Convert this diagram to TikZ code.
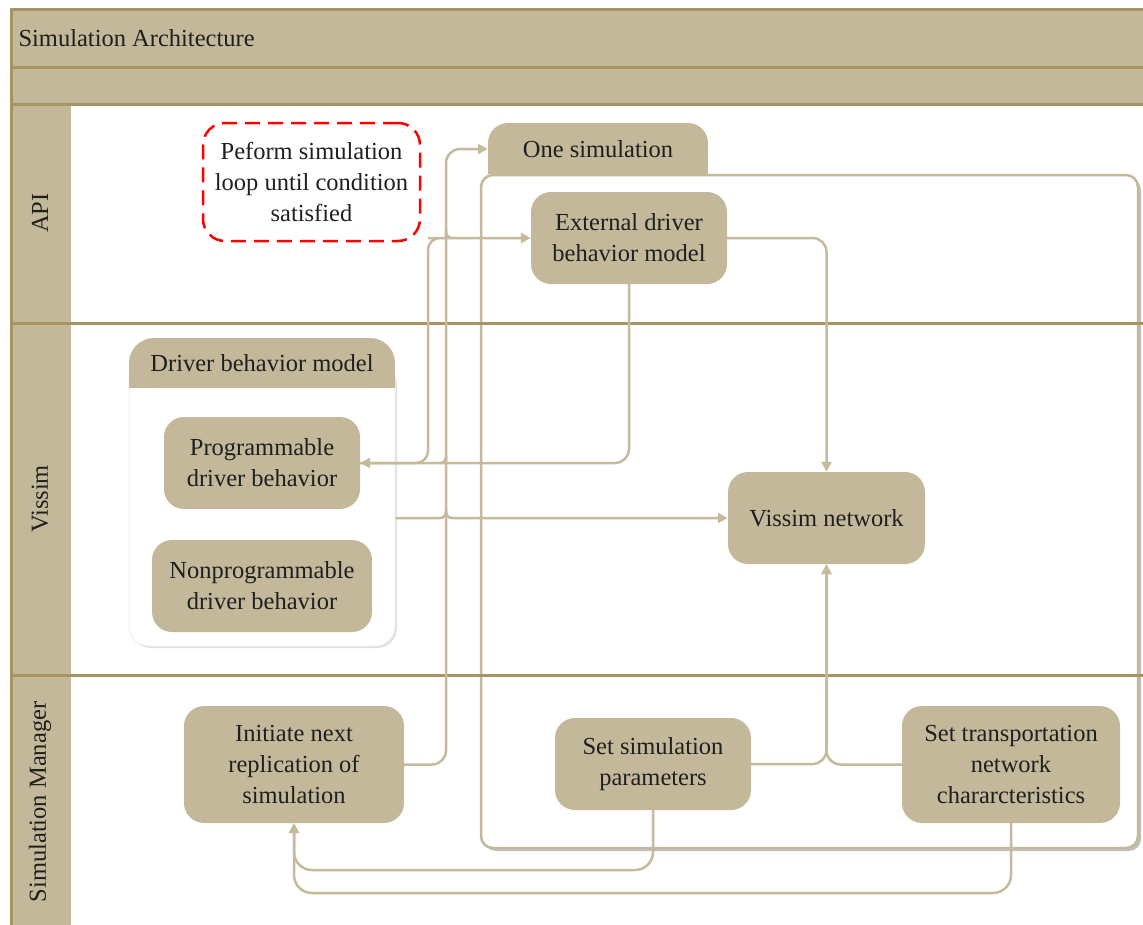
\documentclass[tikz,border=0pt]{standalone}
\usepackage{fontspec}
\setmainfont{Liberation Serif}
\usetikzlibrary{arrows.meta,shadows,calc}
\definecolor{tan}{HTML}{C4B89A}
\definecolor{tandark}{HTML}{A69563}
\definecolor{conncol}{HTML}{C6BA9C}
\begin{document}
\begin{tikzpicture}[x=1pt,y=-1pt,
  txt/.style={font=\fontsize{24.5}{31}\selectfont, text=black!88},
  box/.style={txt, fill=tan, rounded corners=20pt, align=center, inner sep=0pt},
  conn/.style={draw=conncol, line width=2.5pt},
  arr/.style={-{Triangle[length=10pt,width=10pt]}},
  lane/.style={draw=tandark, line width=3pt},
  shade/.style={drop shadow={shadow xshift=3pt, shadow yshift=-3pt, opacity=0.25, fill=black}}
]
\useasboundingbox (0,0) rectangle (1143,924);
\clip (0,0) rectangle (1143,924);
% header bars and lane label column
\fill[tan] (10,9) rectangle (1150,104);
\fill[tan] (10,104) rectangle (71,930);
\node[txt, anchor=west] (title) at (15,38) {Simulation Architecture};
\node[txt, rotate=90] (lapi) at (40,213) {API};
\node[txt, rotate=90] (lvis) at (40,499) {Vissim};
\node[txt, rotate=90] (lsm) at (40,802) {Simulation Manager};

% One simulation container
\node[draw=tan, line width=2.5pt, fill=white, rounded corners=12pt, inner sep=0pt,
      minimum width=657pt, minimum height=673pt, shade] (oscont) at (809.5,511.5) {};
\fill[tan] (488,150) rectangle (708,174);
\node[txt, fill=tan, rounded corners=20pt, inner sep=0pt, minimum width=220pt,
      minimum height=52pt] (onetab) at (598,149) {One simulation};

% Driver behavior model container
\node[draw=black!6, line width=1pt, fill=white, rounded corners=20pt, inner sep=0pt,
      minimum width=266pt, minimum height=283pt,
      drop shadow={shadow xshift=2pt, shadow yshift=-2pt, opacity=0.12, fill=black}] (dbmc) at (262,504.5) {};
\fill[tan] (129,363) rectangle (395,388);
\node[txt, fill=tan, rounded corners=25pt, inner sep=0pt, minimum width=266pt,
      minimum height=50pt] (dbmtab) at (262,363) {Driver behavior model};

% lane lines
\draw[lane] (11,930) -- (11,9) -- (1150,9);
\draw[lane] (10,67) -- (1150,67);
\draw[lane] (10,104) -- (1150,104);
\draw[lane] (10,323) -- (1150,323);
\draw[lane] (10,675) -- (1150,675);

% boxes
\node[txt, draw=red, line width=2.5pt, dash pattern=on 15pt off 8pt, rounded corners=22pt,
      align=center, inner sep=0pt, minimum width=217pt, minimum height=118pt]
      (note) at (311.5,182) {Peform simulation\\loop until condition\\satisfied};
\node[box, minimum width=196pt, minimum height=92pt] (ext) at (629,238) {External driver\\behavior model};
\node[box, minimum width=196pt, minimum height=92pt] (prog) at (262,463) {Programmable\\driver behavior};
\node[box, minimum width=220pt, minimum height=92pt] (nonprog) at (262,586) {Nonprogrammable\\driver behavior};
\node[box, minimum width=197pt, minimum height=92pt] (vis) at (826.5,518) {Vissim network};
\node[box, minimum width=220pt, minimum height=117pt] (init) at (294,764.5) {Initiate next\\replication of\\simulation};
\node[box, minimum width=196pt, minimum height=92pt] (setp) at (653,764) {Set simulation\\parameters};
\node[box, minimum width=218pt, minimum height=117pt] (trans) at (1011,764.5) {Set transportation\\network\\chararcteristics};

% connectors
\begin{scope}[on background layer/.style={}]
\draw[conn, arr, rounded corners=14pt] (init.east) -- (446,764.5) -- (446,149) -- (onetab.west);
\draw[conn, arr] (prog.east) [rounded corners=12pt] -- (428,463) -- (428,238) -- (440,238) [sharp corners]
   .. controls (444,238) and (446,235) .. (446,231)
   .. controls (446,235) and (448,238) .. (452,238) -- (ext.west);
\draw[conn, arr] (ext.south) [rounded corners=14pt] -- (629,463) -- (452,463) [sharp corners]
   .. controls (448,463) and (446,460) .. (446,456)
   .. controls (446,460) and (444,463) .. (440,463) -- (prog.east);
\draw[conn, arr] (dbmc.east |- vis.west) -- (440,518)
   .. controls (444,518) and (446,515) .. (446,511)
   .. controls (446,515) and (448,518) .. (452,518) -- (vis.west);
\draw[conn, arr, rounded corners=14pt] (ext.east) -| (vis.north);
\draw[conn, arr, rounded corners=14pt] (setp.east) -| (vis.south);
\draw[conn, arr, rounded corners=14pt] (trans.west) -| (vis.south);
\draw[conn, arr, rounded corners=18pt] (setp.south) -- (653,870) -| (init.south);
\draw[conn, arr, rounded corners=18pt] (trans.south) -- (1011,893) -| (init.south);
\end{scope}
\end{tikzpicture}
\end{document}
